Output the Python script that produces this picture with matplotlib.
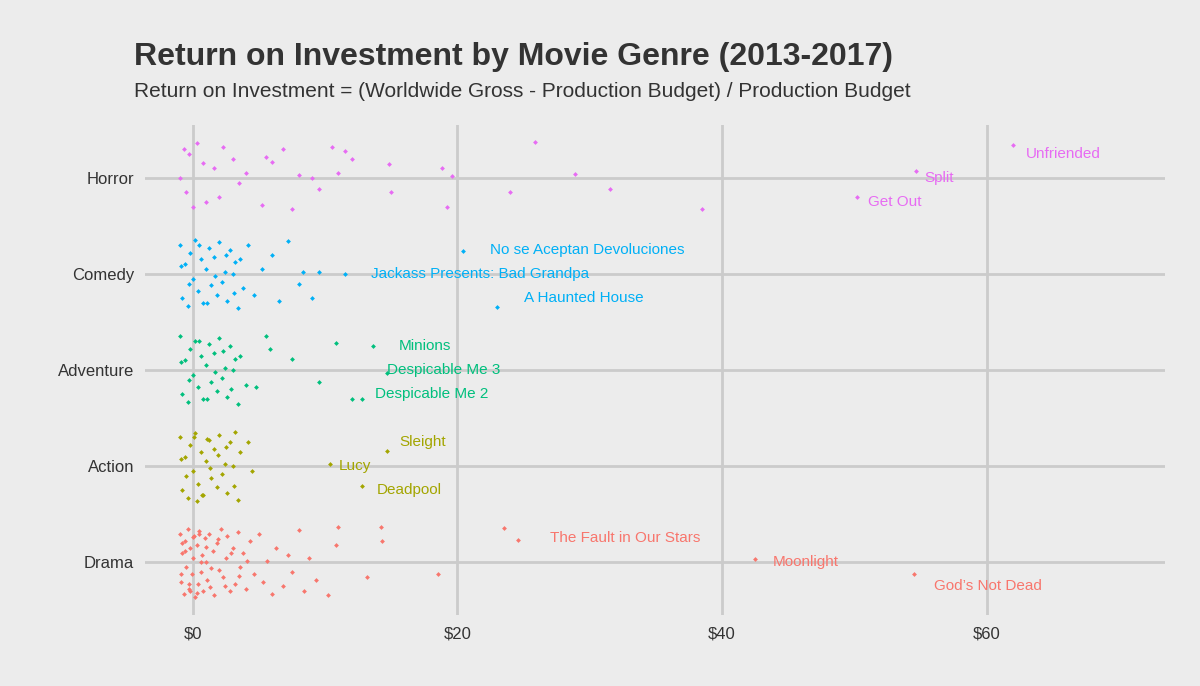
import matplotlib.pyplot as plt

plt.rcParams['font.family'] = ['Liberation Sans', 'DejaVu Sans']

genres = ['Drama', 'Action', 'Adventure', 'Comedy', 'Horror']
colors = ['#F8766D', '#A3A500', '#00BF7D', '#00B0F6', '#E76BF3']

# ROI values (x) and jitter offsets (y) for each genre
roi = {
    'Drama': [-1.0, -0.9, -0.8, -0.7, -0.6, -0.5, -0.4, -0.3, -0.2, -0.1, 0.0, 0.1, 0.2, 0.3, 0.4, 0.5,
              0.6, 0.7, 0.8, 0.9, 1.0, 1.1, 1.2, 1.3, 1.5, 1.6, 1.8, 2.0, 2.1, 2.3, 2.5, 2.6, 2.8, 3.0,
              3.2, 3.4, 3.6, 3.8, 4.0, 4.3, 4.6, 5.0, 5.3, 5.6, 6.0, 6.3, 6.8, 7.2, 7.5, 8.0, 8.4,
              8.8, 9.3, 10.2, 10.8, 11.0, 13.2, 14.2, 14.3, 18.5, 23.5, 24.6, 42.5, 54.5,
              -0.9, -0.6, -0.3, 0.0, 0.3, 0.6, 1.0, 1.4, 1.9, 2.4, 2.9, 3.5, 4.1, -0.8, -0.2, 0.5],
    'Action': [-1.0, -0.8, -0.6, -0.4, -0.2, 0.0, 0.2, 0.4, 0.6, 0.8, 1.0, 1.2, 1.4, 1.6, 1.8,
               2.0, 2.2, 2.4, 2.6, 2.8, 3.0, 3.2, 3.4, 3.6, 4.2, 4.5, -0.9, -0.5, 0.1, 0.7, 1.3,
               1.9, 2.5, 3.1, 0.3, 1.1, 10.4, 12.8, 14.7],
    'Adventure': [-1.0, -0.8, -0.6, -0.4, -0.2, 0.0, 0.2, 0.4, 0.6, 0.8, 1.0, 1.2, 1.4, 1.6, 1.8,
                  2.0, 2.2, 2.4, 2.6, 2.8, 3.0, 3.2, 3.4, 3.6, 4.0, 4.8, 5.5, 5.8, 7.5, 9.5,
                  10.8, 12.0, 12.8, 14.7, 13.6, -0.9, -0.3, 0.5, 1.1, 1.7, 2.3, 2.9],
    'Comedy': [-1.0, -0.8, -0.6, -0.4, -0.2, 0.0, 0.2, 0.4, 0.6, 0.8, 1.0, 1.2, 1.4, 1.6, 1.8,
               2.0, 2.2, 2.4, 2.6, 2.8, 3.0, 3.2, 3.4, 3.6, 3.8, 4.2, 4.6, 5.2, 6.0, 6.5, 7.2,
               8.0, 8.3, 9.0, 9.5, -0.9, -0.3, 0.5, 1.1, 1.7, 2.5, 3.1, 11.5, 20.4, 23.0],
    'Horror': [-1.0, -0.7, -0.5, -0.3, 0.0, 0.3, 0.8, 1.0, 1.6, 2.0, 2.3, 3.0, 3.5, 4.0, 5.2,
               5.5, 6.0, 6.8, 7.5, 8.0, 9.0, 9.5, 10.5, 11.0, 11.5, 12.0, 14.8, 15.0, 18.8,
               19.2, 19.6, 24.0, 25.9, 28.9, 31.5, 38.5, 50.2, 54.7, 62.0],
}
jit = {
    'Drama': [0.30, -0.20, 0.10, -0.33, 0.22, -0.05, 0.35, -0.28, 0.15, -0.12, 0.05, 0.27, -0.36, 0.18, -0.22, 0.33,
              -0.10, 0.08, -0.30, 0.25, 0.00, -0.18, 0.30, -0.26, 0.12, -0.34, 0.20, -0.08, 0.35, -0.15, 0.05, 0.28,
              -0.30, 0.15, -0.22, 0.32, -0.05, 0.10, -0.28, 0.22, -0.12, 0.30, -0.20, 0.02, -0.33, 0.15, -0.25,
              0.08, -0.10, 0.34, -0.30, 0.05, -0.18, -0.34, 0.18, 0.37, -0.15, 0.37, 0.22, -0.12, 0.36, 0.23,
              0.04, -0.12, -0.12, 0.12, -0.22, 0.26, -0.32, 0.00, 0.16, -0.06, 0.24, -0.24, 0.10, -0.14, 0.02,
              0.20, -0.30, 0.30],
    'Action': [0.30, -0.25, 0.10, -0.33, 0.22, -0.05, 0.35, -0.18, 0.15, -0.30, 0.05, 0.27, -0.12, 0.18,
               -0.22, 0.33, -0.08, 0.02, -0.28, 0.25, 0.00, 0.36, -0.35, 0.15, 0.25, -0.05, 0.08, -0.10,
               0.30, -0.30, -0.02, 0.12, 0.20, -0.20, -0.36, 0.28, 0.02, -0.20, 0.16],
    'Adventure': [0.35, -0.25, 0.10, -0.33, 0.22, -0.05, 0.30, -0.18, 0.15, -0.30, 0.05, 0.27, -0.12,
                  0.18, -0.22, 0.33, -0.08, 0.02, -0.28, 0.25, 0.00, 0.12, -0.35, 0.15, -0.15, -0.18,
                  0.35, 0.22, 0.12, -0.12, 0.28, -0.30, -0.30, -0.03, 0.25, 0.08, -0.10, 0.30, -0.30,
                  -0.02, 0.20, -0.20],
    'Comedy': [0.30, -0.25, 0.10, -0.33, 0.22, -0.05, 0.35, -0.18, 0.15, -0.30, 0.05, 0.27, -0.12,
               0.18, -0.22, 0.33, -0.08, 0.02, -0.28, 0.25, 0.00, 0.12, -0.35, 0.15, -0.15, 0.30,
               -0.22, 0.05, 0.20, -0.28, 0.34, -0.10, 0.02, -0.25, 0.02, 0.08, -0.10, 0.30, -0.30,
               -0.02, 0.20, -0.20, 0.00, 0.24, -0.34],
    'Horror': [0.0, 0.30, -0.15, 0.25, -0.30, 0.36, 0.15, -0.25, 0.10, -0.20, 0.32, 0.20, -0.05,
               0.05, -0.28, 0.22, 0.16, 0.30, -0.32, 0.03, 0.00, -0.12, 0.32, 0.05, 0.28, 0.20,
               0.14, -0.15, 0.10, -0.30, 0.02, -0.15, 0.37, 0.04, -0.12, -0.32, -0.20, 0.07, 0.34],
}
# (roi, jitter, title, label x, label y offset from category line)
labels = {
    'Drama': [(24.6, 0.23, 'The Fault in Our Stars', 27.0, 0.25), (42.5, 0.04, 'Moonlight', 43.8, 0.0),
              (54.5, -0.12, "God\u2019s Not Dead", 56.0, -0.25)],
    'Action': [(14.7, 0.16, 'Sleight', 15.6, 0.25), (10.4, 0.02, 'Lucy', 11.0, 0.0), (12.8, -0.2, 'Deadpool', 13.9, -0.25)],
    'Adventure': [(13.6, 0.25, 'Minions', 15.6, 0.25), (14.7, -0.03, 'Despicable Me 3', 14.7, 0.0),
                  (12.8, -0.3, 'Despicable Me 2', 13.8, -0.25)],
    'Comedy': [(20.4, 0.24, 'No se Aceptan Devoluciones', 22.5, 0.25), (11.5, 0.0, 'Jackass Presents: Bad Grandpa', 13.5, 0.0),
               (23.0, -0.34, 'A Haunted House', 25.0, -0.25)],
    'Horror': [(62.0, 0.34, 'Unfriended', 63.0, 0.25), (54.7, 0.07, 'Split', 55.3, 0.0), (50.2, -0.2, 'Get Out', 51.0, -0.25)],
}

bg = '#ECECEC'
fig = plt.figure(figsize=(12, 6.86), dpi=100, facecolor=bg)
ax = fig.add_axes([0.121, 0.103, 0.85, 0.715], facecolor=bg)

for i, g in enumerate(genres):
    ys = [i + 1 + j for j in jit[g]]
    ax.scatter(roi[g], ys, s=6, color=colors[i], marker='D', linewidths=0, zorder=3)
    for x, j, t, lx, ly in labels[g]:
        ax.text(lx, i + 1 + ly, t, color=colors[i], fontsize=11,
                va='center', ha='left', zorder=4)

ax.set_xlim(-3.6, 73.5)
ax.set_ylim(0.45, 5.55)
ax.set_xticks([0, 20, 40, 60])
ax.set_xticklabels(['$0', '$20', '$40', '$60'])
ax.set_yticks(range(1, 6))
ax.set_yticklabels(genres)
ax.grid(True, color='#CBCBCB', linewidth=2, zorder=0)
ax.tick_params(length=0, labelsize=12, colors='#333333', pad=8)
for s in ax.spines.values():
    s.set_visible(False)

fig.text(0.112, 0.905, 'Return on Investment by Movie Genre (2013-2017)',
         fontsize=23, fontweight='bold', color='#333333', va='baseline')
fig.text(0.112, 0.858, 'Return on Investment = (Worldwide Gross - Production Budget) / Production Budget',
         fontsize=15, color='#333333', va='baseline')

fig.savefig('out.png', dpi=100, facecolor=bg)
